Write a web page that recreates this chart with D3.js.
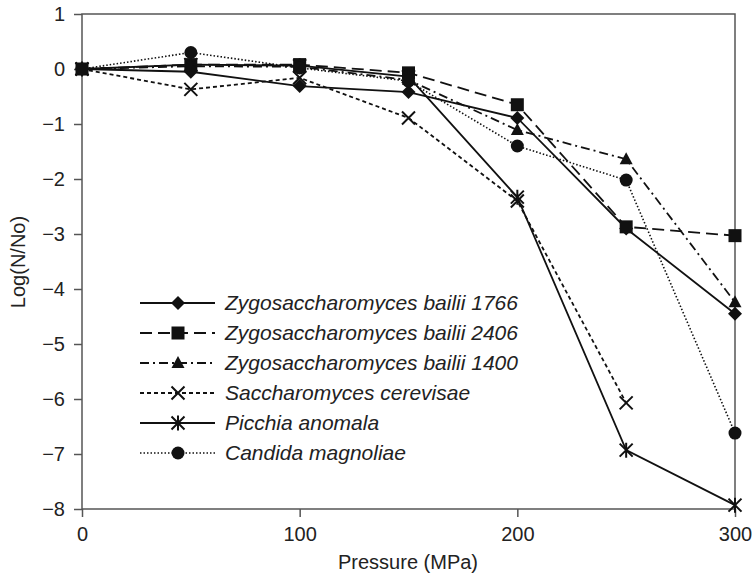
<!DOCTYPE html>
<html lang="en">
<head>
<meta charset="UTF-8">
<title>Log(N/No) vs Pressure</title>
<script src="https://cdn.jsdelivr.net/npm/d3@7"></script>
<style>
   body { margin: 0; background: #fff; }
   #chart text { font-family: "Liberation Sans", Arial, sans-serif; fill: #222; }
   .frame path, .frame line { stroke: #555; stroke-width: 1.5; }
   .legend text { font-style: italic; font-size: 21px; }
</style>
</head>
<body>
<div id="chart"></div>
<script>
// pressure levels (MPa)
var pressures = [0, 50, 100, 150, 200, 250, 300];

// log reduction per strain
var zb1766 = [0, -0.05, -0.31, -0.42, -0.89, -2.9, -4.45];
var zb2406 = [0, 0.08, 0.08, -0.07, -0.65, -2.87, -3.03];
var zb1400 = [0, 0.05, 0.04, -0.2, -1.11, -1.64, -4.24];
var scer = [0, -0.37, -0.16, -0.89, -2.4, -6.07, null];
var panom = [0, 0.08, 0.06, -0.14, -2.33, -6.93, -7.93];
var cmag = [0, 0.3, 0.02, -0.22, -1.4, -2.02, -6.62];

var names = ["Zygosaccharomyces bailii 1766", "Zygosaccharomyces bailii 2406",
   "Zygosaccharomyces bailii 1400", "Saccharomyces cerevisae",
   "Picchia anomala", "Candida magnoliae"];

var xTicks = [0, 100, 200, 300];
var yTicks = [1, 0, -1, -2, -3, -4, -5, -6, -7, -8];

var series = [
   { name: names[0], values: zb1766, dash: null, marker: "diamond" },
   { name: names[1], values: zb2406, dash: "12,6", marker: "square" },
   { name: names[2], values: zb1400, dash: "9,4,2,4", marker: "triangle" },
   { name: names[3], values: scer, dash: "4,3", marker: "cross" },
   { name: names[4], values: panom, dash: null, marker: "star" },
   { name: names[5], values: cmag, dash: "1.5,2", marker: "circle" }
];

var svg = d3.select("#chart").append("svg").attr("width", 754).attr("height", 574);

var x = d3.scaleLinear().domain([0, 300]).range([82, 735]);
var y = d3.scaleLinear().domain([-8, 1]).range([509, 14]);

// frame
svg.append("rect").attr("x", 82).attr("y", 14).attr("width", 735 - 82).attr("height", 509 - 14)
   .attr("fill", "none").attr("stroke", "#555").attr("stroke-width", 1.5);

svg.append("g").attr("class", "frame")
   .attr("transform", "translate(0,509)")
   .call(d3.axisBottom(x).tickValues(xTicks).tickSize(8).tickPadding(10))
   .call(function(g) { g.select(".domain").remove(); })
   .selectAll("text").attr("font-size", 20);

svg.append("g").attr("class", "frame")
   .attr("transform", "translate(82,0)")
   .call(d3.axisLeft(y).tickValues(yTicks).tickSize(8).tickPadding(9))
   .call(function(g) { g.select(".domain").remove(); })
   .selectAll("text").attr("font-size", 20);

svg.append("text").attr("x", 408).attr("y", 569).attr("text-anchor", "middle")
   .attr("font-size", 20).text("Pressure (MPa)");
svg.append("text").attr("transform", "translate(25,262) rotate(-90)")
   .attr("text-anchor", "middle").attr("font-size", 20).text("Log(N/No)");

function drawMarker(g, type, cx, cy) {
   if (type === "diamond") {
      g.append("path").attr("d", "M" + cx + "," + (cy - 7) + "L" + (cx + 7) + "," + cy +
         "L" + cx + "," + (cy + 7) + "L" + (cx - 7) + "," + cy + "Z").attr("fill", "#111");
   } else if (type === "square") {
      g.append("rect").attr("x", cx - 6.5).attr("y", cy - 6.5).attr("width", 13).attr("height", 13).attr("fill", "#111");
   } else if (type === "triangle") {
      g.append("path").attr("d", "M" + cx + "," + (cy - 7) + "L" + (cx + 6.5) + "," + (cy + 5) +
         "L" + (cx - 6.5) + "," + (cy + 5) + "Z").attr("fill", "#111");
   } else if (type === "circle") {
      g.append("circle").attr("cx", cx).attr("cy", cy).attr("r", 6.5).attr("fill", "#111");
   } else {
      var s = 6.5;
      g.append("path").attr("d", "M" + (cx - s) + "," + (cy - s) + "L" + (cx + s) + "," + (cy + s) +
         "M" + (cx - s) + "," + (cy + s) + "L" + (cx + s) + "," + (cy - s) +
         (type === "star" ? "M" + cx + "," + (cy - s - 1) + "L" + cx + "," + (cy + s + 1) : ""))
         .attr("stroke", "#111").attr("stroke-width", 2).attr("fill", "none");
   }
}

var line = d3.line()
   .defined(function(d) { return d != null; })
   .x(function(d, i) { return x(pressures[i]); })
   .y(function(d) { return y(d); });

series.forEach(function(s) {
   var g = svg.append("g");
   g.append("path").attr("d", line(s.values)).attr("fill", "none")
      .attr("stroke", "#111").attr("stroke-width", s.marker === "circle" ? 1.6 : 1.8)
      .attr("stroke-dasharray", s.dash);
   s.values.forEach(function(v, i) {
      if (v != null) drawMarker(g, s.marker, x(pressures[i]), y(v));
   });
});

// legend
var legend = svg.append("g").attr("class", "legend");
series.forEach(function(s, i) {
   var ly = 303 + i * 30;
   legend.append("line").attr("x1", 140).attr("x2", 215).attr("y1", ly).attr("y2", ly)
      .attr("stroke", "#111").attr("stroke-width", s.marker === "circle" ? 1.6 : 1.8)
      .attr("stroke-dasharray", s.dash);
   drawMarker(legend, s.marker, 178, ly);
   legend.append("text").attr("x", 225).attr("y", ly + 7).text(s.name);
});
</script>
</body>
</html>
